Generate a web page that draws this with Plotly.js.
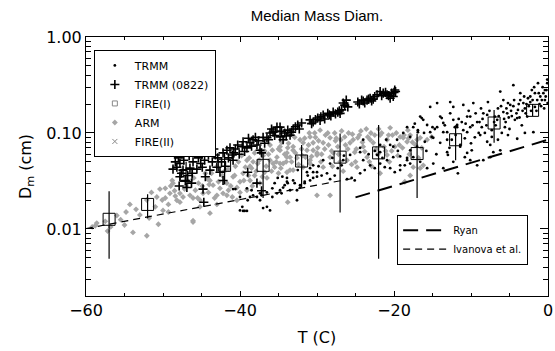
<!DOCTYPE html>
<html><head><meta charset="utf-8">
<script src="https://cdn.plot.ly/plotly-3.0.1.min.js"></script>
<style>html,body{margin:0;padding:0;background:#fff}#chart{width:555px;height:351px}</style>
</head><body><div id="chart"></div>
<script>
// [T (C), Dm (cm)] pairs
const armPts = [
[-58.8,0.0108],[-58.6,0.0115],[-56.0,0.0138],[-53.9,0.0092],[-52.1,0.0085],[-50.6,0.0112],[-50.1,0.020],[-49.7,0.021],[-49.3,0.018],[-49.1,0.0235],
[-50.0,0.0156],[-48.8,0.032],[-48.7,0.030],[-48.2,0.0199],[-47.8,0.0235],[-47.4,0.0215],[-46.5,0.0224],[-46.1,0.021],[-45.8,0.0253],[-45.4,0.030],
[-46.1,0.0118],[-45.2,0.0199],[-44.8,0.0235],[-44.1,0.024],[-43.9,0.032],[-43.5,0.0286],[-43.0,0.0224],[-42.6,0.0265],[-42.2,0.0235],[-41.7,0.030],
[-41.5,0.0253],[-41.0,0.0215],[-40.9,0.035],[-40.4,0.027],[-40.0,0.031],[-39.6,0.038],[-39.1,0.0253],[-38.7,0.032],[-38.5,0.043],[-38.1,0.036],
[-37.7,0.048],[-37.4,0.030],[-36.8,0.039],[-36.1,0.052],[-35.8,0.066],[-35.5,0.044],[-35.2,0.056],[-34.8,0.072],[-34.4,0.048],[-33.9,0.062],
[-33.5,0.041],[-33.1,0.072],[-32.6,0.055],[-32.2,0.085],[-31.8,0.044],[-31.3,0.066],[-30.9,0.052],[-30.5,0.079],[-30.0,0.062],
[-52.1,0.020],[-50.8,0.0215],[-54.3,0.018],[-49.7,0.0265],[-49.3,0.015],
[-47.8,0.019],[-45.2,0.017],[-43.9,0.0146],[-43.0,0.018],[-41.7,0.0224],[-40.4,0.0199],[-46.1,0.0122],[-40.0,0.024],[-39.1,0.052],[-38.7,0.045],
[-38.1,0.062],[-37.4,0.066],[-36.1,0.075],[-35.7,0.048],[-34.8,0.066],[-34.4,0.085],[-33.9,0.056],[-33.8,0.07],
[-34.6,0.08],[-33.1,0.066],[-31.8,0.079],[-30.9,0.091],[-30.5,0.066],[-29.6,0.107],[-29.2,0.079],[-28.3,0.089],[-27.9,0.062],[-27.3,0.072],
[-26.4,0.091],[-25.7,0.079],[-25.1,0.063],[-24.7,0.089],[-24.0,0.072],[-23.4,0.091],[-22.7,0.079],[-21.8,0.095],[-20.9,0.085],[-20.5,0.113],
[-19.9,0.072],[-19.2,0.091],[-18.3,0.081],[-18.2,0.107],
[-34.8,0.048],[-33.5,0.056],[-33.1,0.041],[-30.9,0.048],[-30.0,0.059],[-29.2,0.044],[-28.3,0.056],[-26.1,0.052],[-24.8,0.044],[-23.5,0.056],
[-21.8,0.038],[-20.9,0.059],[-30.0,0.0224],[-28.3,0.0224],[-33.8,0.019],[-33.9,0.039],
[-17.9,0.036],[-18.6,0.031],[-16.6,0.043],[-16.2,0.046],[-17.5,0.044],
[-18.8,0.089],[-17.9,0.095],[-16.6,0.089],[-15.7,0.085],[-15.1,0.091],
[-44.5,0.038],[-43.0,0.045],[-41.5,0.042],[-39.8,0.058],[-38.9,0.036],[-37.0,0.058],[-36.5,0.034],[-35.0,0.038],[-34.0,0.05],[-32.8,0.062],
[-31.5,0.056],[-30.2,0.09],[-29.0,0.068],[-28.6,0.1],[-27.6,0.083],[-27.0,0.05],[-26.8,0.105],[-26.0,0.068],[-25.4,0.097],[-24.3,0.105],
[-23.8,0.064],[-23.0,0.1],[-22.3,0.068],[-22.0,0.11],[-21.3,0.072],[-20.6,0.05],[-20.2,0.095],[-19.5,0.058],[-18.9,0.07],[-18.0,0.06],
[-17.2,0.075],[-16.8,0.055],[-29.5,0.05],[-28.0,0.045],[-25.5,0.047],[-23.2,0.05],[-31.0,0.1],[-32.0,0.068],[-36.8,0.065],[-38.3,0.05],
[-40.6,0.045],[-42.3,0.036],[-44.0,0.029],[-47.0,0.028],[-48.5,0.025],[-51.0,0.017],[-53.0,0.014],[-55.0,0.011],[-57.5,0.012],[-56.8,0.0105],
[-47.2,0.026],[-46.7,0.031],[-46.0,0.034],[-45.5,0.021],[-44.9,0.028],[-44.2,0.033],[-43.7,0.038],[-43.3,0.021],[-42.8,0.031],[-42.0,0.04],
[-41.2,0.028],[-40.7,0.036],[-40.2,0.05],[-39.5,0.032],[-39.3,0.044],[-38.8,0.055],[-38.4,0.028],[-37.9,0.04],[-37.5,0.052],[-37.1,0.035],
[-36.6,0.045],[-36.3,0.06],[-35.9,0.04],[-35.3,0.05],[-35.0,0.068],[-34.7,0.043],[-34.2,0.06],[-33.7,0.078],[-33.3,0.05],[-32.9,0.09],
[-32.4,0.047],[-31.9,0.058],[-31.6,0.088],[-31.1,0.075],[-30.7,0.057],[-30.3,0.1],[-29.8,0.083],[-29.4,0.06],[-28.9,0.095],[-28.5,0.075],
[-28.1,0.065],[-27.7,0.1],[-27.2,0.06],[-26.9,0.085],[-26.3,0.075],[-25.9,0.1],[-25.3,0.085],[-24.9,0.068],[-24.5,0.095],[-24.1,0.08],
[-23.6,0.11],[-23.1,0.085],[-22.5,0.095],[-22.1,0.06],[-21.6,0.1],[-21.1,0.065],[-20.7,0.095],[-20.3,0.065],[-19.7,0.1],[-19.3,0.075],
[-18.7,0.095],[-18.1,0.088],[-17.6,0.08],[-17.0,0.085],[-16.4,0.07],[-53.5,0.016],[-51.5,0.024],[-50.4,0.026],[-49.0,0.028],[-48.4,0.022],
[-55.5,0.0125],[-54.8,0.015],[-57.2,0.0095],[-59.2,0.0105],[-51.8,0.013],[-26.6,0.04],[-25.0,0.05],[-22.9,0.045],[-27.5,0.088],[-29.9,0.07]
];

const trmmPts = [
[-40.6,0.026],[-40.0,0.0215],[-39.7,0.017],[-39.6,0.0154],[-39.1,0.0154],[-39.0,0.0199],[-38.7,0.0215],[-38.3,0.0224],[-37.8,0.0215],[-37.2,0.0224],
[-37.0,0.0165],[-36.5,0.017],[-36.1,0.0156],[-35.8,0.0215],[-35.2,0.0235],[-34.8,0.0253],[-34.4,0.027],[-33.8,0.030],[-33.1,0.032],[-32.6,0.0253],
[-32.2,0.027],[-31.6,0.030],[-30.9,0.032],[-30.5,0.039],[-30.0,0.035],[-31.3,0.039],[-32.5,0.041],[-30.9,0.043],[-30.5,0.046],[-40.9,0.026],
[-39.1,0.0265],[-38.5,0.0253],[-37.8,0.030],[-37.4,0.0235],[-36.5,0.024],[-35.8,0.0265],[-35.5,0.030],[-35.1,0.034],[-34.5,0.035],[-33.9,0.034],
[-34.2,0.0286],[-37.4,0.0199],[-40.0,0.0156],[-39.4,0.0154],
[-33.9,0.031],[-33.5,0.0253],[-32.9,0.030],[-32.2,0.0286],[-31.6,0.031],[-31.2,0.036],[-30.5,0.034],[-30.0,0.039],[-29.4,0.036],[-28.7,0.038],
[-28.3,0.033],[-27.7,0.036],[-27.3,0.043],[-26.8,0.046],[-26.1,0.033],[-25.5,0.034],[-25.1,0.032],[-24.4,0.038],[-23.8,0.041],[-23.1,0.046],
[-22.5,0.043],[-21.8,0.048],[-21.2,0.044],[-20.5,0.043],[-19.9,0.039],[-19.2,0.041],[-18.6,0.046],[-17.9,0.048],
[-28.3,0.048],[-26.6,0.052],[-25.7,0.059],[-24.0,0.052],[-22.2,0.059],[-21.8,0.063],[-20.9,0.052],[-20.1,0.056],[-19.2,0.057],[-18.3,0.055],
[-29.2,0.052],[-29.8,0.045],[-32.6,0.0199],[-34.6,0.0235],
[-24.4,0.07],[-24.0,0.085],[-21.8,0.075],[-20.5,0.075],[-19.6,0.085],[-17.9,0.091],[-17.5,0.115],[-16.9,0.102],[-16.2,0.137],[-15.7,0.121],
[-15.1,0.091],[-14.7,0.11],[-14.0,0.148],[-13.6,0.127],[-13.1,0.102],[-12.5,0.085],[-12.3,0.137],[-11.8,0.121],[-11.4,0.072],[-11.0,0.107],
[-10.5,0.148],[-10.1,0.115],[-9.7,0.205],[-9.2,0.13],[-8.6,0.115],[-7.9,0.154],[-7.3,0.091],[-6.6,0.137],[-6.2,0.27],[-5.8,0.165],
[-5.2,0.205],[-4.5,0.19],[-4.0,0.143],[-3.6,0.22],[-3.0,0.18],[-2.3,0.21],[-1.7,0.26],[-1.0,0.24],[-0.4,0.28],[-0.1,0.33],
[-17.3,0.125],[-16.9,0.107],[-15.3,0.102],[-14.9,0.089],[-14.4,0.115],[-13.8,0.143],[-13.6,0.102],[-13.1,0.085],[-12.7,0.16],[-12.3,0.187],
[-11.8,0.115],[-11.2,0.13],[-11.0,0.196],[-10.5,0.102],[-10.1,0.148],[-8.8,0.095],[-8.4,0.16],[-7.8,0.21],[-7.3,0.107],[-6.9,0.148],
[-6.5,0.18],[-5.8,0.22],[-5.6,0.115],[-5.3,0.16],[-4.9,0.196],[-4.5,0.315],[-4.3,0.137],[-3.9,0.174],[-3.6,0.26],[-3.2,0.205],
[-2.7,0.148],[-2.3,0.24],[-2.1,0.28],[-1.7,0.187],[-1.3,0.33],[-0.8,0.22],[-0.6,0.26],[-0.1,0.36],[-0.05,0.205],[-1.9,0.102],
[-4.0,0.087],[-9.9,0.066],[-7.9,0.081],[-11.4,0.075],[-14.0,0.079],[-16.0,0.081],[-17.0,0.072],[-17.9,0.066],[-13.1,0.063],[-10.5,0.062],
[-19.2,0.046],[-18.3,0.052],[-17.5,0.056],[-16.6,0.05],[-15.7,0.043],[-14.9,0.048],[-13.6,0.043],[-13.0,0.059],[-12.3,0.05],[-11.7,0.038],
[-10.8,0.056],[-10.1,0.052],[-9.2,0.046],[-8.4,0.052],[-7.5,0.056],[-7.1,0.063],[-6.2,0.066],
[-22.5,0.065],[-21.0,0.085],[-20.1,0.072],[-24.4,0.063],[-26.5,0.058],[-28.0,0.055],[-16.4,0.143],[-18.3,0.115],[-14.4,0.205],[-12.7,0.21],
[-15.3,0.187],[-16.6,0.148],
[-9.5,0.09],[-8.2,0.1],[-6.8,0.12],[-5.5,0.13],[-4.7,0.15],[-3.4,0.12],[-2.9,0.16],[-2.5,0.19],[-1.5,0.17],[-1.1,0.2],
[-0.5,0.18],[-0.3,0.24],[-6.0,0.1],[-5.0,0.11],[-3.8,0.2],[-8.9,0.13],[-9.8,0.12],[-12.0,0.095],[-10.8,0.088],[-7.5,0.075],
[-6.5,0.085],[-5.2,0.095],[-3.0,0.1],[-15.8,0.065],[-14.5,0.06],[-12.8,0.07],[-10.0,0.078],
[-9.0,0.1],[-8.5,0.14],[-8.0,0.12],[-7.6,0.17],[-7.0,0.13],[-6.4,0.15],[-6.1,0.19],[-5.7,0.14],[-5.4,0.18],[-5.1,0.145],
[-4.8,0.17],[-4.4,0.22],[-4.1,0.16],[-3.7,0.145],[-3.3,0.17],[-3.1,0.24],[-2.8,0.2],[-2.6,0.23],[-2.2,0.17],[-2.0,0.22],
[-1.8,0.3],[-1.4,0.22],[-1.2,0.26],[-0.9,0.19],[-0.7,0.3],[-0.4,0.22],[-0.2,0.28],[-13.4,0.12],[-12.1,0.115],[-11.6,0.14],
[-10.7,0.125],[-10.3,0.17],[-9.4,0.16],[-8.7,0.18],[-15.0,0.115],[-16.1,0.1],[-18.8,0.1],[-19.5,0.065],[-21.5,0.055],[-23.3,0.06]
];

const trmm0822Pts = [
[-48.7,0.042],[-48.2,0.044],[-47.8,0.048],[-47.4,0.041],[-47.8,0.035],[-47.1,0.032],[-46.9,0.027],[-46.8,0.036],[-46.5,0.043],[-48.0,0.055],
[-46.1,0.05],[-45.8,0.062],[-45.4,0.055],[-44.9,0.044],[-44.5,0.035],[-44.8,0.026],[-44.3,0.066],[-44.1,0.059],[-43.6,0.05],[-43.2,0.059],
[-43.0,0.044],[-42.6,0.039],[-42.2,0.032],[-42.2,0.062],[-41.7,0.066],[-41.5,0.055],[-41.0,0.059],[-40.9,0.052],[-40.3,0.075],[-39.7,0.072],
[-39.6,0.081],[-39.1,0.070],[-38.7,0.079],[-38.3,0.085],[-37.8,0.075],[-37.4,0.066],[-37.2,0.062],[-36.5,0.089],[-36.1,0.10],[-35.7,0.102],
[-35.2,0.115],[-34.8,0.091],[-34.2,0.10],[-33.8,0.107],[-33.1,0.11],[-32.5,0.121],[-32.0,0.127],[-30.9,0.137],[-30.5,0.13],[-29.9,0.143],
[-29.2,0.154],[-28.6,0.16],[-27.9,0.165],[-27.3,0.165],[-26.8,0.174],[-26.6,0.205],[-26.2,0.22],[-26.0,0.187],[-27.0,0.16],[-24.7,0.21],
[-24.2,0.22],[-23.5,0.22],[-23.1,0.23],[-22.5,0.24],[-21.8,0.27],[-21.4,0.26],[-20.9,0.25],[-20.3,0.26],[-19.9,0.28],[-20.1,0.24],
[-20.5,0.23],[-44.7,0.019],[-37.2,0.025],[-34.8,0.115],[-34.4,0.085],[-33.5,0.095],[-28.2,0.15],[-22.9,0.215],
[-37.8,0.03],[-39.0,0.039],[-46.3,0.03],[-45.1,0.048],[-43.8,0.063],[-40.6,0.068],[-38.0,0.09],[-35.5,0.094],[-29.6,0.135],
[-47.6,0.038],
[-48.4,0.05],[-47.9,0.028],[-47.3,0.052],[-46.6,0.058],[-46.2,0.038],[-45.6,0.042],[-45.0,0.06],[-44.6,0.052],[-43.9,0.041],[-43.4,0.068],
[-42.9,0.055],[-42.4,0.05],[-41.9,0.045],[-41.3,0.07],[-40.8,0.062],[-40.1,0.06],[-39.4,0.064],[-38.9,0.088],[-38.5,0.073],[-37.6,0.083],
[-37.0,0.09],[-36.8,0.078],[-36.3,0.085],[-35.9,0.11],[-35.4,0.104],[-34.6,0.104],[-34.0,0.093],[-33.3,0.102],[-32.8,0.116],[-32.3,0.11],
[-30.7,0.125],[-30.2,0.138],[-29.5,0.147],[-29.0,0.14],[-28.4,0.155],[-27.6,0.158],[-27.1,0.17],[-26.4,0.195],[-24.5,0.2],[-24.0,0.215],
[-23.8,0.205],[-23.3,0.225],[-22.7,0.225],[-22.2,0.25],[-21.6,0.245],[-21.1,0.265],[-20.7,0.245],[-20.0,0.265],[-19.8,0.27]
];

// FIRE(I) medians with error-bar extents
const fireT  = [-57, -52, -47, -42, -37, -32, -27, -22, -17, -12, -7, -2];
const fireD  = [0.0126, 0.018, 0.036, 0.046, 0.046, 0.051, 0.056, 0.062, 0.061, 0.085, 0.127, 0.172];
const fireHi = [0.0247, 0.023, 0.050, 0.063, 0.063, 0.075, 0.099, 0.121, 0.098, 0.120, 0.174, 0.20];
const fireLo = [0.0049, 0.0129, 0.027, 0.029, 0.021, 0.027, 0.0148, 0.0049, 0.021, 0.052, 0.079, 0.15];

// FIRE(II): no points visible in the picture (legend entry only)
const fire2T = [null];
const fire2D = [null];

// reference relations (end points)
const ryanT = [-25, 0];
const ryanD = [0.0213, 0.085];
const ivanT = [-60, -25];
const ivanD = [0.0101, 0.034];

const xs = p => p.map(a => a[0]);
const ys = p => p.map(a => a[1]);

const traces = [
  {type:'scatter', mode:'markers', name:'ARM', x:xs(armPts), y:ys(armPts), legendrank:4,
   marker:{symbol:'diamond', size:4.5, color:'#a6a6a6'}},
  {type:'scatter', mode:'markers', name:'TRMM', x:xs(trmmPts), y:ys(trmmPts), legendrank:1,
   marker:{symbol:'circle', size:2.8, color:'#000'}},
  {type:'scatter', mode:'markers', name:'TRMM (0822)', x:xs(trmm0822Pts), y:ys(trmm0822Pts), legendrank:2,
   marker:{symbol:'cross-thin', size:6.5, color:'#000', line:{color:'#000', width:1.6}}},
  {type:'scatter', mode:'markers', name:'FIRE(I)', x:fireT, y:fireD, showlegend:false,
   marker:{symbol:'square-open', size:12, color:'#000', line:{width:1}},
   error_y:{type:'data', symmetric:false, array:fireD.map((d,i)=>fireHi[i]-d), arrayminus:fireD.map((d,i)=>d-fireLo[i]),
            width:0, thickness:1.2, color:'#000'}},
  {type:'scatter', mode:'markers', name:'FIRE(I)', x:[null], y:[null], legendrank:3,
   marker:{symbol:'square-open', size:5, color:'#888', line:{width:1}}},
  {type:'scatter', mode:'markers', name:'FIRE(II)', x:fire2T, y:fire2D, legendrank:5,
   marker:{symbol:'x-thin-open', size:5, color:'#888', line:{color:'#888', width:1}}},
  {type:'scatter', mode:'lines', name:'Ryan', x:ryanT, y:ryanD, legend:'legend2', legendrank:1,
   line:{color:'#000', width:2, dash:'15px,8px'}},
  {type:'scatter', mode:'lines', name:'Ivanova et al.', x:ivanT, y:ivanD, legend:'legend2', legendrank:2,
   line:{color:'#000', width:1.2, dash:'7px,5px'}}
];

const minorY = [];
[0.001,0.01,0.1].forEach(b=>{for(let k=2;k<=9;k++){const v=b*k; if(v>=0.002 && v<1) minorY.push(v);}});

const layout = {
  width:555, height:351, margin:{l:86, r:7, t:37, b:55},
  paper_bgcolor:'#fff', plot_bgcolor:'#fff',
  font:{family:'DejaVu Sans, sans-serif', color:'#000'},
  title:{text:'Median Mass Diam.', font:{size:15, family:'Liberation Sans, Arial, sans-serif'}, x:0.5, xref:'paper', xanchor:'center', y:0.955, yref:'container', yanchor:'middle'},
  showlegend:true,
  xaxis:{range:[-60,0], tickmode:'linear', tick0:-60, dtick:20, ticks:'inside', ticklen:5, tickwidth:1, tickcolor:'#000',
         showline:true, linecolor:'#000', linewidth:1, mirror:'ticks', showgrid:false, zeroline:false,
         tickfont:{size:16}, minor:{tickmode:'linear', tick0:0, dtick:5, ticks:'inside', ticklen:3, tickcolor:'#000', showgrid:false},
         title:{text:'T (C)', font:{size:16}, standoff:12}},
  yaxis:{type:'log', range:[Math.log10(0.002), 0], tickmode:'array', tickvals:[0.01,0.1,1], ticktext:['0.01','0.10','1.00'],
         ticks:'inside', ticklen:8, tickwidth:1, tickcolor:'#000', showline:true, linecolor:'#000', linewidth:1, mirror:'ticks',
         showgrid:false, zeroline:false, tickfont:{size:16},
         minor:{tickmode:'array', tickvals:minorY, ticks:'inside', ticklen:5, tickcolor:'#000', showgrid:false},
         title:{text:'D<sub>m</sub> (cm)', font:{size:16}, standoff:10}},
  legend:{x:0.017, y:0.95, xanchor:'left', yanchor:'top', bordercolor:'#000', borderwidth:1, bgcolor:'#fff',
          font:{size:11}, tracegroupgap:0, itemwidth:30},
  legend2:{x:0.957, y:0.121, xanchor:'right', yanchor:'bottom', bordercolor:'#000', borderwidth:1, bgcolor:'#fff',
          font:{size:10}, itemwidth:45}
};

Plotly.newPlot('chart', traces, layout, {displayModeBar:false, staticPlot:true});
</script>
</body></html>
